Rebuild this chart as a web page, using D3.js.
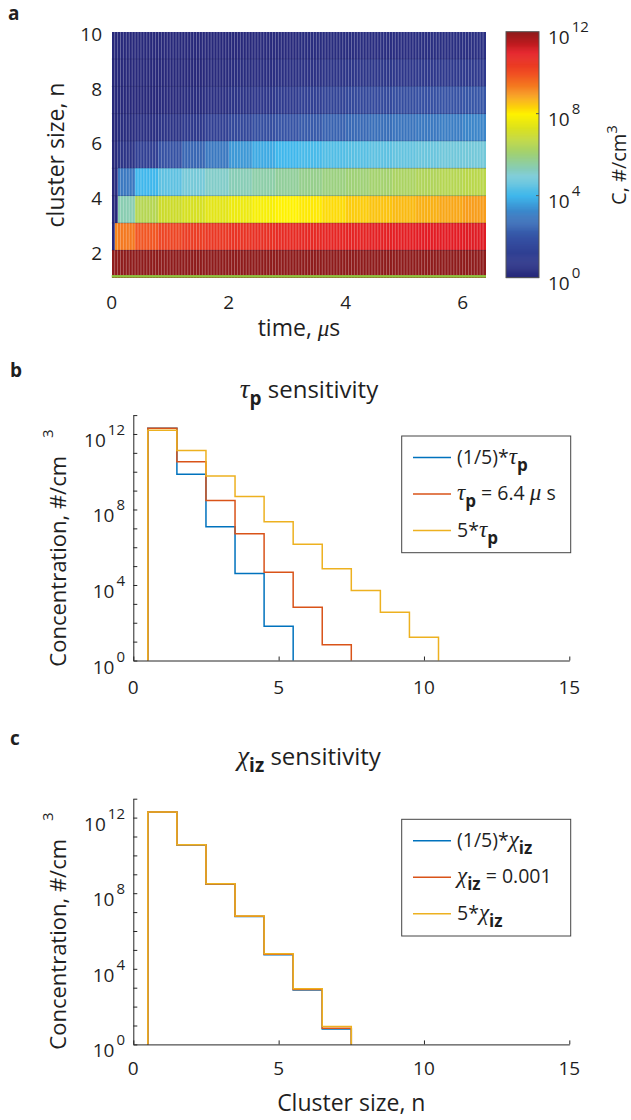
<!DOCTYPE html>
<html><head><meta charset="utf-8">
<script src="https://cdn.jsdelivr.net/npm/d3@7"></script>
<style>
body{margin:0;background:#fff}
svg text{font-family:"Open Sans",sans-serif;fill:#1f1f1f}
.greek{font-family:"Liberation Serif",serif;font-style:italic}
</style>
</head><body>
<svg id="chart" width="631" height="1120"></svg>
<script>
// ---------- DATA ----------
// panel a: heat map, time cell edges (µs) and cluster sizes (row lower edges)
const heatTimes = [0, 0.05, 0.1, 0.4, 0.8, 1.2, 1.6, 2.0, 2.4, 2.8, 3.2, 3.6, 4.0, 4.4, 4.8, 5.2, 5.6, 6.0, 6.4];
const heatSizes = [1, 2, 3, 4, 5, 6, 7, 8, 9];
// log10 C per row (n) per time cell
const heatLogC = [
  [12.0,12.0,12.0,12.0,12.0,12.0,12.0,12.0,12.0,12.0,12.0,12.0,12.0,12.0,12.0,12.0,12.0,12.0],
  [0.0, 9.2, 9.4, 9.9,10.2,10.35,10.45,10.55,10.6,10.7,10.75,10.8,10.85,10.9,10.95,11.0,11.0,11.05],
  [0.0, 0.0, 5.4, 6.5, 7.0, 7.2, 7.45, 7.65, 7.85, 8.0, 8.1, 8.25, 8.4, 8.5, 8.6, 8.7, 8.8, 8.9],
  [0.0, 0.3, 3.0, 4.0, 4.5, 4.9, 5.15, 5.35, 5.5, 5.65, 5.8, 5.95, 6.05, 6.15, 6.3, 6.4, 6.5, 6.6],
  [0.0, 0.1, 0.6, 1.2, 1.9, 2.5, 3.0, 3.5, 3.8, 4.0, 4.15, 4.3, 4.4, 4.5, 4.6, 4.7, 4.8, 4.85],
  [0.0, 0.0, 0.2, 0.4, 0.6, 0.9, 1.2, 1.5, 1.8, 2.0, 2.2, 2.4, 2.6, 2.75, 2.9, 3.0, 3.1, 3.2],
  [0.0, 0.0, 0.0, 0.0, 0.1, 0.2, 0.4, 0.6, 0.8, 1.0, 1.2, 1.35, 1.5, 1.6, 1.75, 1.85, 1.95, 2.05],
  [0.0, 0.0, 0.0, 0.0, 0.0, 0.0, 0.1, 0.2, 0.3, 0.4, 0.5, 0.6, 0.7, 0.75, 0.8, 0.85, 0.9, 0.95],
  [0.0, 0.0, 0.0, 0.0, 0.0, 0.0, 0.0, 0.0, 0.1, 0.1, 0.2, 0.2, 0.25, 0.3, 0.3, 0.35, 0.35, 0.4]
];
const heatXTicks = [0, 2, 4, 6];
const heatYTicks = [2, 4, 6, 8, 10];
const colorbarTicks = [0, 4, 8, 12];

// panels b, c: cluster size n and log10 concentration
const clusterSizes = [1, 2, 3, 4, 5, 6, 7, 8, 9, 10];
const tauSmall = [12.3, 9.86, 7.08, 4.61, 1.81];
const tauBase  = [12.3, 10.53, 8.48, 6.71, 4.68, 2.82, 0.84];
const tauLarge = [12.2, 11.13, 9.77, 8.69, 7.35, 6.16, 4.86, 3.71, 2.56, 1.23];
const chiSmall = [12.29, 10.55, 8.48, 6.77, 4.75, 2.88, 0.82];
const chiBase  = [12.29, 10.56, 8.49, 6.78, 4.77, 2.9, 0.85];
const chiLarge = [12.29, 10.57, 8.5, 6.79, 4.79, 2.94, 0.95];
const xTicksBC = [0, 5, 10, 15];
const yLabelExpBC = [0, 4, 8, 12];
const yDecadesBC = d3.range(0, 14);

// ---------- STYLE ----------
const cmapStops = [0, 1, 2, 3, 4, 5, 6, 7, 8, 9, 10, 11, 12];
const cmapColors = ["#27287a","#2e3a8e","#3653a5","#3a78c0","#3fb7ec","#7ccbd6","#9dd07a","#ccdb2a","#fff200","#f7941d","#f04e23","#e31b23","#8e1b1b"];
const seriesColors = ["#0072BD", "#D95319", "#EDB120"];
const axisColor = "#262626";

const svg = d3.select("#chart");
const color = d3.scaleLinear().domain(cmapStops).range(cmapColors).clamp(true);

function pow10Label(g, x, y, exp, anchor) {
  const t = g.append("text").attr("x", x).attr("y", y).attr("text-anchor", anchor || "end")
    .style("font-size", "19px");
  t.append("tspan").text("10");
  t.append("tspan").attr("dy", -12).attr("dx", 2).style("font-size", "15px").text(exp);
}

// ---------- PANEL A ----------
const xA = d3.scaleLinear().domain([0, 6.4]).range([111.7, 486]);
const yA = d3.scaleLinear().domain([1, 10]).range([277.6, 31.7]);
const gA = svg.append("g");
heatSizes.forEach((n, r) => {
  gA.selectAll(null).data(heatLogC[r]).enter().append("rect")
    .attr("x", (d, j) => xA(heatTimes[j]))
    .attr("width", (d, j) => xA(heatTimes[j + 1]) - xA(heatTimes[j]))
    .attr("y", yA(n + 1)).attr("height", yA(n) - yA(n + 1))
    .attr("fill", d => color(d)).attr("shape-rendering", "crispEdges");
});
// column edges (pcolor grid)
gA.selectAll(null).data(d3.range(1, 128)).enter().append("line")
  .attr("x1", i => xA(i * 0.05)).attr("x2", i => xA(i * 0.05))
  .attr("y1", yA(10)).attr("y2", yA(1))
  .attr("stroke", "#fff").attr("stroke-opacity", 0.3).attr("stroke-width", 1);
gA.selectAll(null).data(d3.range(2, 10)).enter().append("line")
  .attr("x1", xA(0)).attr("x2", xA(6.4)).attr("y1", d => yA(d)).attr("y2", d => yA(d))
  .attr("stroke", "#1a1a50").attr("stroke-opacity", 0.25).attr("stroke-width", 1);
gA.append("rect").attr("x", xA(0)).attr("width", xA(6.4) - xA(0))
  .attr("y", yA(1) - 2.5).attr("height", 2.5).attr("fill", "#8cc63f");

gA.selectAll(null).data(heatXTicks).enter().append("text")
  .attr("x", d => xA(d)).attr("y", 309.4).attr("text-anchor", "middle")
  .style("font-size", "19px").text(d => d);
gA.selectAll(null).data(heatYTicks).enter().append("text")
  .attr("x", 102).attr("y", d => yA(d) + 9.4).attr("text-anchor", "end")
  .style("font-size", "19px").text(d => d);
gA.append("text").attr("x", 299).attr("y", 336).attr("text-anchor", "middle")
  .style("font-size", "23px")
  .call(t => { t.append("tspan").text("time, "); t.append("tspan").attr("class", "greek").text("μ"); t.append("tspan").text("s"); });
gA.append("text").attr("transform", "translate(64,155) rotate(-90)").attr("text-anchor", "middle")
  .style("font-size", "23px").text("cluster size, n");
svg.append("text").attr("x", 8).attr("y", 20).style("font-size", "19px").style("font-weight", "bold").text("a");

// colorbar
const yCB = d3.scaleLinear().domain([0, 12]).range([277.6, 31.7]);
const gCB = svg.append("g");
gCB.selectAll(null).data(d3.range(0, 12, 0.05)).enter().append("rect")
  .attr("x", 506).attr("width", 33)
  .attr("y", d => yCB(d + 0.05)).attr("height", d => yCB(d) - yCB(d + 0.05) + 0.5)
  .attr("fill", d => color(d + 0.025));
gCB.append("rect").attr("x", 506).attr("y", yCB(12)).attr("width", 33).attr("height", yCB(0) - yCB(12))
  .attr("fill", "none").attr("stroke", "#555").attr("stroke-width", 1);
gCB.selectAll(null).data([4, 8]).enter().append("line")
  .attr("x1", 539).attr("x2", 536).attr("y1", d => yCB(d)).attr("y2", d => yCB(d))
  .attr("stroke", "#555");
colorbarTicks.forEach(e => pow10Label(gCB, 548, yCB(e) + 12.5, e, "start"));
gCB.append("text").attr("transform", "translate(626,165) rotate(-90)").attr("text-anchor", "middle")
  .style("font-size", "20px")
  .call(t => { t.append("tspan").text("C, #/cm"); t.append("tspan").attr("dy", -9).style("font-size", "15px").text("3"); });

// ---------- PANELS B & C ----------
function stairPoints(vals) {
  const pts = [[clusterSizes[0] - 0.5, 0]];
  vals.forEach((v, i) => pts.push([clusterSizes[i] - 0.5, v]));
  const last = clusterSizes[vals.length - 1] + 0.5;
  pts.push([last, vals[vals.length - 1]]);
  pts.push([last, 0]);
  return pts;
}

function panel(cfg) {
  const g = svg.append("g");
  const x = d3.scaleLinear().domain([0, 15]).range([133.3, 569.3]);
  const y = d3.scaleLog().domain([1, 1e13]).range([cfg.bottom, cfg.top]);
  const line = d3.line().x(d => x(d[0])).y(d => y(Math.pow(10, d[1]))).curve(d3.curveStepAfter);
  cfg.series.forEach((s, i) => {
    g.append("path").attr("d", line(stairPoints(s))).attr("fill", "none")
      .attr("stroke", seriesColors[i]).attr("stroke-width", 1.5);
  });
  const ax = d3.axisBottom(x).tickValues(xTicksBC).tickSizeInner(-4).tickSizeOuter(0).tickFormat("");
  const gx = g.append("g").attr("transform", `translate(0,${cfg.bottom})`).call(ax);
  const ay = d3.axisLeft(y).tickValues(yDecadesBC.map(e => Math.pow(10, e))).tickSizeInner(-4).tickSizeOuter(0).tickFormat("");
  const gy = g.append("g").attr("transform", `translate(${x(0)},0)`).call(ay);
  [gx, gy].forEach(a => { a.selectAll("path,line").attr("stroke", axisColor); });
  g.selectAll(null).data(xTicksBC).enter().append("text")
    .attr("x", d => x(d)).attr("y", cfg.bottom + cfg.xlabOff).attr("text-anchor", "middle")
    .style("font-size", "19px").text(d => d);
  yLabelExpBC.forEach(e => pow10Label(g, 125, y(Math.pow(10, e)) + 13, e, "end"));
  g.append("text").attr("transform", `translate(66,${cfg.ylabY}) rotate(-90)`).attr("text-anchor", "middle")
    .style("font-size", "22px")
    .call(t => { t.append("tspan").text("Concentration, #/cm"); t.append("tspan").attr("dy", -13).attr("dx", 18).style("font-size", "15px").text("3"); });
  g.append("text").attr("x", 309).attr("y", cfg.titleY).attr("text-anchor", "middle").style("font-size", "24px")
    .call(t => {
      t.append("tspan").attr("class", "greek").style("font-size", "27px").text(cfg.sym);
      t.append("tspan").attr("dy", 7).style("font-size", "19px").style("font-weight", "bold").text(cfg.sub);
      t.append("tspan").attr("dy", -7).text(" sensitivity");
    });
  svg.append("text").attr("x", 10).attr("y", cfg.letterY).style("font-size", "19px").style("font-weight", "bold").text(cfg.letter);
  const lg = g.append("g");
  lg.append("rect").attr("x", 401.7).attr("y", cfg.legTop).attr("width", 169).attr("height", 116.7)
    .attr("fill", "#fff").attr("stroke", "#444").attr("stroke-width", 1);
  cfg.legend.forEach((parts, i) => {
    const yy = cfg.legTop + 21.5 + i * 36.5;
    lg.append("line").attr("x1", 413).attr("x2", 451).attr("y1", yy).attr("y2", yy)
      .attr("stroke", seriesColors[i]).attr("stroke-width", 1.5);
    const t = lg.append("text").attr("x", 457).attr("y", yy + 6).style("font-size", "19.5px");
    parts.forEach(p => {
      const ts = t.append("tspan").text(p.t);
      if (p.g) ts.attr("class", "greek").style("font-size", "23px");
      if (p.sub) ts.attr("dy", 7).style("font-weight", "bold").style("font-size", "17px");
      if (p.up) ts.attr("dy", -7);
    });
  });
  if (cfg.xTitle) {
    g.append("text").attr("x", x(7.5)).attr("y", 1111).attr("text-anchor", "middle").style("font-size", "23px").text(cfg.xTitle);
  }
}

panel({
  top: 415.1, bottom: 660.5, xlabOff: 33, ylabY: 548, titleY: 398, letterY: 377, letter: "b",
  sym: "τ", sub: "p", legTop: 436, series: [tauSmall, tauBase, tauLarge],
  legend: [
    [{t: "(1/5)*"}, {t: "τ", g: true}, {t: "p", sub: true}],
    [{t: "τ", g: true}, {t: "p", sub: true}, {t: " = 6.4 ", up: true}, {t: "μ", g: true}, {t: " s"}],
    [{t: "5*"}, {t: "τ", g: true}, {t: "p", sub: true}]
  ]
});
panel({
  top: 798.7, bottom: 1044.4, xlabOff: 30.3, ylabY: 931, titleY: 765, letterY: 745, letter: "c",
  sym: "χ", sub: "iz", legTop: 819.3, series: [chiSmall, chiBase, chiLarge], xTitle: "Cluster size, n",
  legend: [
    [{t: "(1/5)*"}, {t: "χ", g: true}, {t: "iz", sub: true}],
    [{t: "χ", g: true}, {t: "iz", sub: true}, {t: " = 0.001", up: true}],
    [{t: "5*"}, {t: "χ", g: true}, {t: "iz", sub: true}]
  ]
});
</script>
</body></html>
